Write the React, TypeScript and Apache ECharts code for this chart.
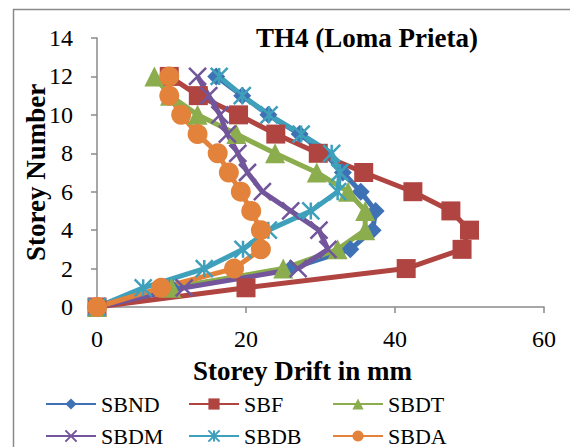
import React, { useEffect, useRef } from "react";
import * as echarts from "echarts";

const storeys = [0, 1, 2, 3, 4, 5, 6, 7, 8, 9, 10, 11, 12];
const seriesNames = ["SBND", "SBF", "SBDT", "SBDM", "SBDB", "SBDA"];
const SBND = [0, 10, 26, 34, 37, 37.4, 35.4, 33, 30.5, 27.2, 23, 19.5, 16];
const SBF = [0, 20, 41.5, 49, 50, 47.5, 42.4, 35.8, 29.7, 24, 19, 13.6, 9.7];
const SBDT = [0, 10, 25, 32.3, 36, 36, 33.7, 29.5, 23.9, 18.7, 13.5, 9.8, 7.7];
const SBDM = [0, 11.7, 27, 31, 29.8, 26, 22.2, 20.2, 18.9, 17.5, 16.5, 15, 13.5];
const SBDB = [0, 6.2, 14.4, 19.6, 23, 28.7, 32.3, 32.6, 31.5, 27.4, 23.1, 19.5, 16.4];
const SBDA = [0, 8.6, 18.4, 22, 22, 20.7, 19.3, 17.7, 16.2, 13.5, 11.3, 9.7, 9.7];
const xTicks = [0, 20, 40, 60];
const yTicks = [0, 2, 4, 6, 8, 10, 12, 14];

const colors = ["#3F72B5", "#B04441", "#8CAD4E", "#72559A", "#3EA0BB", "#E3823A"];
const symbols = [
  "diamond",
  "rect",
  "triangle",
  "path://M0,0 L10,10 M10,0 L0,10",
  "path://M0,0 L10,10 M10,0 L0,10 M5,0 L5,10",
  "circle",
];
const symbolSizes = [18, 19, 20, 17, 17, 20];
const FONT = "Liberation Serif";

export default function App() {
  const ref = useRef<HTMLDivElement>(null);
  useEffect(() => {
    if (!ref.current) return;
    const chart = echarts.init(ref.current, undefined, { renderer: "svg" });
    const allData = [SBND, SBF, SBDT, SBDM, SBDB, SBDA];
    const legendPos = [
      { left: 45, top: 393 },
      { left: 188, top: 393 },
      { left: 332, top: 393 },
      { left: 45, top: 425 },
      { left: 188, top: 425 },
      { left: 332, top: 425 },
    ];
    const option: any = {
      animation: false,
      backgroundColor: "#ffffff",
      textStyle: { fontFamily: FONT },
      title: {
        text: "TH4 (Loma Prieta)",
        left: 362,
        top: 19,
        textAlign: "center",
        textStyle: { fontFamily: FONT, fontWeight: "bold", fontSize: 27, color: "#000" },
      },
      graphic: [
        {
          type: "rect",
          shape: { x: 13.5, y: 9.5, width: 600, height: 500 },
          style: { fill: "none", stroke: "#8a8a8a", lineWidth: 1.5 },
          silent: true,
        },
      ],
      legend: seriesNames.map((n, i) => ({
        data: [n],
        left: legendPos[i].left,
        top: legendPos[i].top,
        itemWidth: 50,
        itemHeight: 14,
        itemGap: 2,
        padding: 0,
        textStyle: { fontFamily: FONT, fontSize: 22, color: "#000" },
      })),
      grid: { left: 97, right: 26, top: 38, bottom: 140 },
      xAxis: {
        type: "value",
        min: xTicks[0],
        max: xTicks[xTicks.length - 1],
        interval: 20,
        name: "Storey Drift in mm",
        nameLocation: "middle",
        nameGap: 50,
        nameMoveOverlap: false,
        nameTextStyle: {
          fontFamily: FONT,
          fontWeight: "bold",
          fontSize: 27,
          color: "#000",
          padding: [0, 36, 0, 0],
        },
        axisLine: { lineStyle: { color: "#8a8a8a", width: 1.5 } },
        axisTick: { show: true, length: 6, lineStyle: { color: "#8a8a8a", width: 1.5 } },
        axisLabel: { fontFamily: FONT, fontSize: 24, color: "#000", margin: 20 },
        splitLine: { show: false },
      },
      yAxis: {
        type: "value",
        min: yTicks[0],
        max: yTicks[yTicks.length - 1],
        interval: 2,
        name: "Storey Number",
        nameLocation: "middle",
        nameGap: 48,
        nameMoveOverlap: false,
        nameTextStyle: { fontFamily: FONT, fontWeight: "bold", fontSize: 27, color: "#000" },
        axisLine: { show: true, lineStyle: { color: "#8a8a8a", width: 1.5 } },
        axisTick: { show: true, length: 6, lineStyle: { color: "#8a8a8a", width: 1.5 } },
        axisLabel: { fontFamily: FONT, fontSize: 24, color: "#000", margin: 24 },
        splitLine: { show: false },
      },
      series: seriesNames.map((n, i) => ({
        name: n,
        type: "line",
        data: allData[i].map((v, j) => [v, storeys[j]]),
        symbol: symbols[i],
        symbolSize: symbolSizes[i],
        showAllSymbol: true,
        lineStyle: { color: colors[i], width: 5 },
        itemStyle: {
          color: colors[i],
          borderColor: colors[i],
          borderWidth: i === 3 || i === 4 ? 2.5 : 0,
          opacity: 1,
        },
        emphasis: { disabled: true },
      })),
    };
    chart.setOption(option);
    return () => chart.dispose();
  }, []);
  return <div ref={ref} style={{ width: 570, height: 447, position: "absolute", left: 0, top: 0 }} />;
}
